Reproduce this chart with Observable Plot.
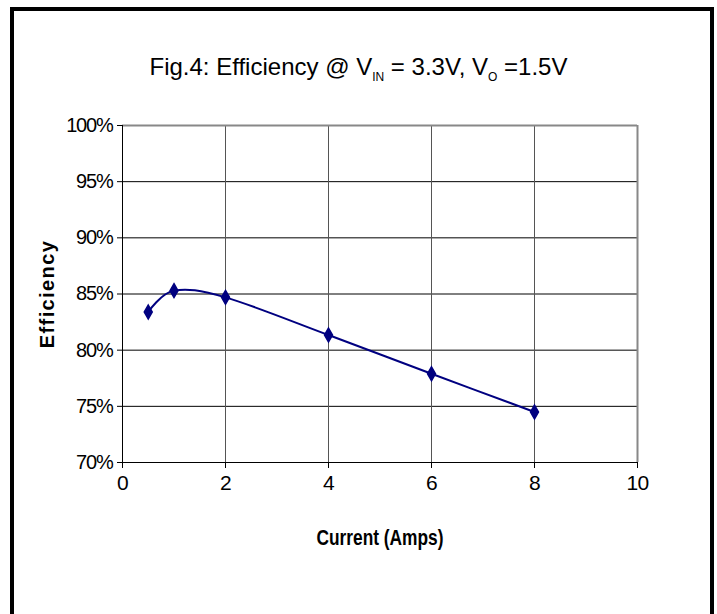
<!DOCTYPE html>
<html>
<head>
<meta charset="utf-8">
<script src="https://cdn.jsdelivr.net/npm/d3@7"></script>
<script src="https://cdn.jsdelivr.net/npm/@observablehq/plot@0.6"></script>
<style>
  html, body { margin: 0; padding: 0; background: #fff; overflow: hidden; }
  #wrap { position: relative; width: 717px; height: 614px; overflow: hidden; }
  #border { position: absolute; left: 10px; top: 7px; width: 696px; height: 700px; border: 4px solid #000; box-sizing: content-box; }
  #title { position: absolute; left: 0; width: 717px; top: 53px; line-height: 28px; text-align: center; font-family: "Liberation Sans", Arial, sans-serif; font-size: 24px; color: #000; white-space: nowrap; }
  #title sub { font-size: 12px; vertical-align: -6px; line-height: 0; }
  #chart { position: absolute; left: 0; top: 0; }
  #chart svg text { font-family: "Liberation Sans", Arial, sans-serif; }
  #chart g[aria-label="x-axis tick label"] text { font-size: 21px !important; letter-spacing: -0.6px; }
  #chart g[aria-label="y-axis tick label"] text { font-size: 20px !important; letter-spacing: -1.2px; }
</style>
</head>
<body>
<div id="wrap">
  <div id="border"></div>
  <div id="title">Fig.4: Efficiency @ V<sub>IN</sub> = 3.3V, V<sub>O</sub> =1.5V</div>
  <div id="chart"></div>
</div>
<script>
const current = [0.5, 1, 2, 4, 6, 8];
const efficiency = [83.4, 85.3, 84.7, 81.35, 77.9, 74.5];
const xTicks = [0, 2, 4, 6, 8, 10];
const yTicks = [70, 75, 80, 85, 90, 95, 100];
const xTitle = "Current (Amps)";
const yTitle = "Efficiency";

const data = current.map((c, i) => ({current: c, efficiency: efficiency[i]}));

const plot = Plot.plot({
  width: 717,
  height: 614,
  marginLeft: 122,
  marginRight: 80,
  marginTop: 125,
  marginBottom: 152,
  style: {background: "transparent", fontSize: "18px", color: "#000"},
  x: {domain: [0, 10]},
  y: {domain: [70, 100]},
  marks: [
    Plot.ruleY(yTicks.filter(d => d > 70 && d < 100), {stroke: "#000", strokeWidth: 1}),
    Plot.ruleX(xTicks.filter(d => d > 0 && d < 10), {stroke: "#555", strokeWidth: 1}),
    Plot.ruleY([100], {stroke: "#888", strokeWidth: 2}),
    Plot.ruleX([10], {stroke: "#888", strokeWidth: 2}),
    Plot.ruleX([0], {stroke: "#000", strokeWidth: 1}),
    Plot.ruleY([70], {stroke: "#000", strokeWidth: 1}),
    Plot.axisX({ticks: xTicks, tickSize: 6, tickPadding: 7, tickFormat: d => String(d), label: null}),
    Plot.axisY({ticks: yTicks, tickSize: 5, tickPadding: 5, tickFormat: d => d + "%", label: null}),
    Plot.line(data, {x: "current", y: "efficiency", curve: "cardinal", stroke: "#000080", strokeWidth: 2}),
    Plot.dot(data, {x: "current", y: "efficiency", symbol: "diamond", r: 4.2, fill: "#000080", stroke: "#000080"}),
    Plot.text([xTitle], {frameAnchor: "bottom", dy: 75, lineAnchor: "middle", textAnchor: "middle", text: d => d, fontSize: 22, fontWeight: "bold"}),
    Plot.text([yTitle], {frameAnchor: "left", dx: -75, rotate: -90, lineAnchor: "middle", textAnchor: "middle", text: d => d, fontSize: 20, fontWeight: "bold"})
  ]
});
d3.select(plot).selectAll("text").filter(function() { return this.textContent === xTitle; })
  .attr("textLength", 127).attr("lengthAdjust", "spacingAndGlyphs");
d3.select(plot).selectAll("text").filter(function() { return this.textContent === yTitle; }).style("letter-spacing", "1.4px");
document.getElementById("chart").appendChild(plot);
</script>
</body>
</html>
